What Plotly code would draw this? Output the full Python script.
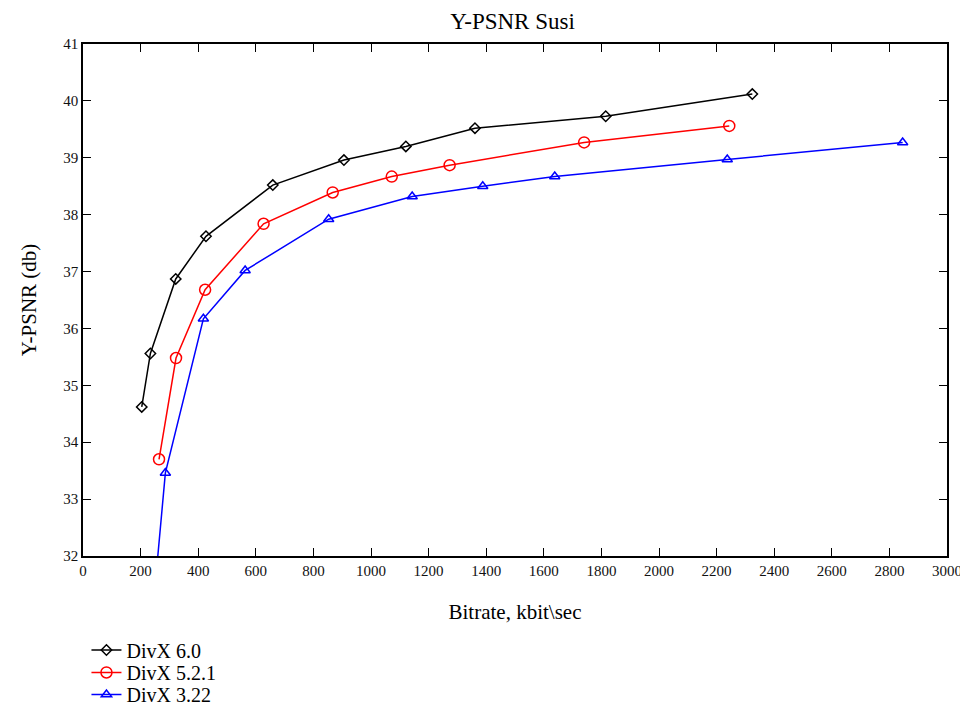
import plotly.graph_objects as go

# Data
divx60_x = [204, 234, 322, 427, 659, 906, 1121, 1361, 1815, 2324]
divx60_y = [34.62, 35.56, 36.87, 37.62, 38.52, 38.96, 39.20, 39.52, 39.73, 40.12]

divx521_x = [264, 323, 424, 627, 867, 1072, 1273, 1740, 2244]
divx521_y = [33.70, 35.48, 36.68, 37.84, 38.39, 38.67, 38.87, 39.27, 39.56]

divx322_x = [240, 286, 418, 563, 853, 1143, 1388, 1638, 2237, 2846]
divx322_y = [30.9, 33.46, 36.17, 37.02, 37.92, 38.32, 38.50, 38.67, 38.97, 39.27]

x_ticks = list(range(0, 3001, 200))
y_ticks = list(range(32, 42))

FONT = "Liberation Serif, Times New Roman, serif"

fig = go.Figure()
fig.add_trace(go.Scatter(
    x=divx60_x, y=divx60_y, mode="lines+markers", name="DivX 6.0", legend="legend",
    line=dict(color="black", width=1.5),
    marker=dict(symbol="diamond-open", size=8, color="black", line=dict(width=1.5)),
))
fig.add_trace(go.Scatter(
    x=divx521_x, y=divx521_y, mode="lines+markers", name="DivX 5.2.1", legend="legend2",
    line=dict(color="#ff0000", width=1.5),
    marker=dict(symbol="circle-open", size=11, color="#ff0000", line=dict(width=1.5)),
))
fig.add_trace(go.Scatter(
    x=divx322_x, y=divx322_y, mode="lines+markers", name="DivX 3.22", legend="legend3",
    line=dict(color="#0000ff", width=1.5),
    marker=dict(symbol="triangle-up-open", size=9, color="#0000ff", line=dict(width=1.5)),
))

axis_common = dict(
    showgrid=False, zeroline=False, showline=True, linecolor="black", linewidth=1.6,
    mirror="ticks", ticks="inside", ticklen=8, tickwidth=1.2, tickcolor="black",
    tickfont=dict(family=FONT, size=15, color="#111"), automargin=False,
)

legend_common = dict(x=0.004, xanchor="left", yanchor="middle", orientation="v",
                     font=dict(family=FONT, size=20, color="black"),
                     bgcolor="rgba(0,0,0,0)", itemwidth=30)

fig.update_layout(
    width=960, height=699,
    paper_bgcolor="white", plot_bgcolor="white",
    margin=dict(l=75, r=21, t=36, b=151, autoexpand=False),
    font=dict(family=FONT, color="black"),
    title=dict(text="Y-PSNR Susi", x=0.5255, xanchor="center", y=0.981, yanchor="middle",
               font=dict(family=FONT, size=23, color="black")),
    xaxis=dict(range=[0, 3000], tickvals=x_ticks, ticktext=[str(v) for v in x_ticks],
               title=dict(text="Bitrate, kbit\\sec", font=dict(family=FONT, size=21), standoff=27),
               **axis_common),
    yaxis=dict(range=[32, 41], tickvals=y_ticks, ticktext=[str(v) for v in y_ticks],
               title=dict(text="Y-PSNR (db)", font=dict(family=FONT, size=21), standoff=21),
               **axis_common),
    legend=dict(y=-0.1836, **legend_common),
    legend2=dict(y=-0.2275, **legend_common),
    legend3=dict(y=-0.2705, **legend_common),
    showlegend=True,
)

fig.write_html("out.html")
